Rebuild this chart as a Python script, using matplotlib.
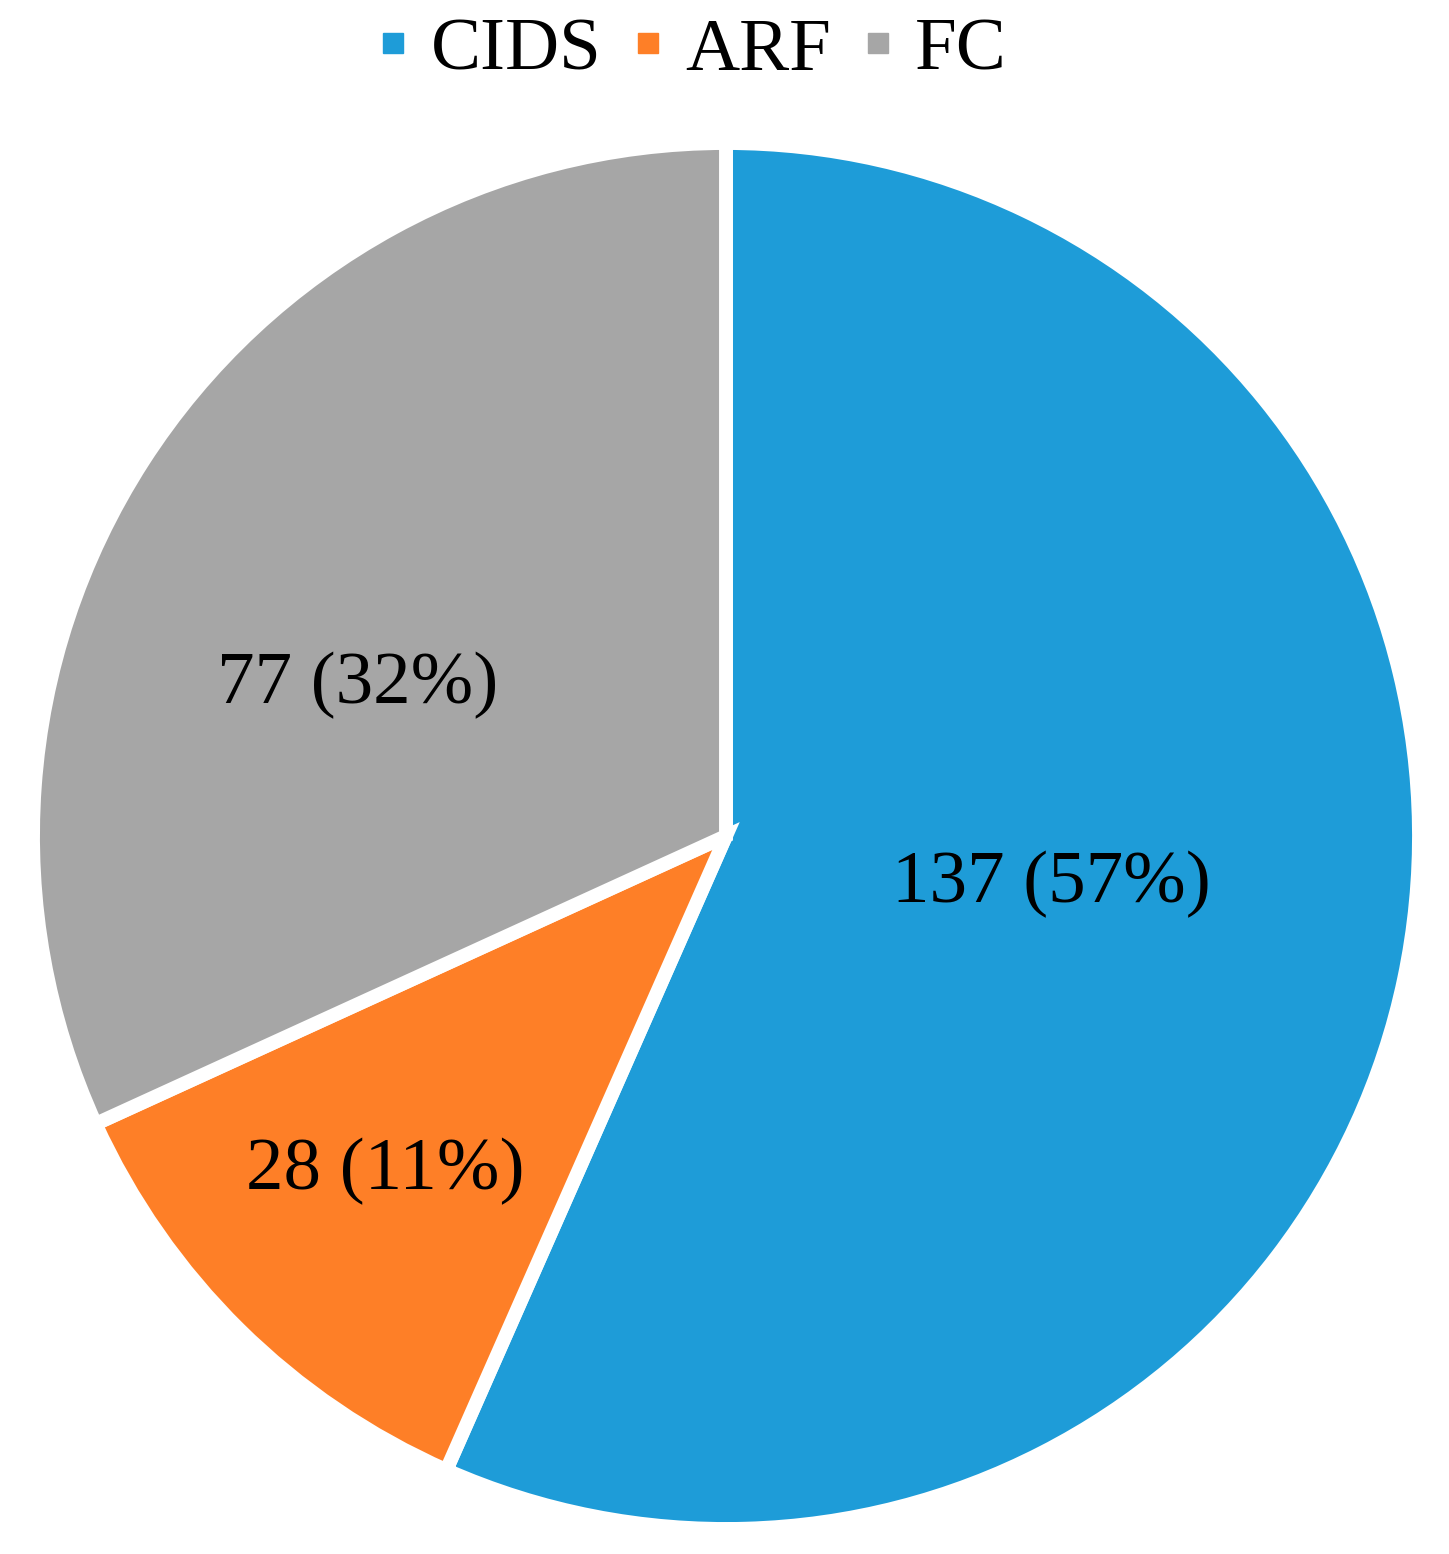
# Grafica de pastel: CIDS, ARF, FC

import numpy as np
import matplotlib.pyplot as plt
from matplotlib.lines import Line2D

# Datos

categorias = ['CIDS', 'ARF', 'FC']
valores = [137, 28, 77]
porcentajes = [57, 11, 32]
colores = ['#1E9CD8', '#FE7F27', '#A6A6A6']

# Posicion de las etiquetas (radio relativo y desplazamiento de angulo)
radios_etiqueta = [0.475, 0.69, 0.575]
giro_etiqueta = [3.5, -0.8, 10.5]

plt.rcParams['font.family'] = ['Liberation Serif', 'DejaVu Serif']

fig = plt.figure(figsize=(14.49, 15.54), dpi=100)
ax = fig.add_axes([33 / 1449, 25 / 1554, 1386 / 1449, 1386 / 1554])

wedges, _ = ax.pie(valores, colors=colores, startangle=90, counterclock=False,
                   wedgeprops=dict(edgecolor='white', linewidth=10))

for w, v, p, r, g in zip(wedges, valores, porcentajes, radios_etiqueta, giro_etiqueta):
    ang = np.deg2rad((w.theta1 + w.theta2) / 2 + g)
    ax.text(r * np.cos(ang), r * np.sin(ang), f'{v} ({p}%)',
            ha='center', va='center', fontsize=54, color='black')

ax.set_xlim(-1, 1)
ax.set_ylim(-1, 1)
ax.set_aspect('equal')

# Leyenda
handles = [Line2D([], [], marker='s', linestyle='none', markersize=14,
                  markerfacecolor=c, markeredgecolor=c) for c in colores]
fig.legend(handles, categorias, loc='center', bbox_to_anchor=(0.478, 0.967),
           ncol=3, frameon=False, fontsize=54, handlelength=0.4,
           handletextpad=0.3, columnspacing=0.42, borderpad=0)

plt.savefig('out.png', dpi=100)
